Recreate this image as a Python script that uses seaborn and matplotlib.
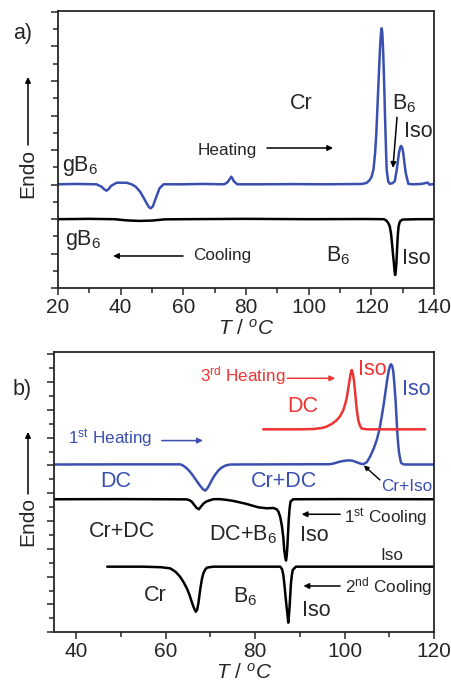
import matplotlib
matplotlib.use("Agg")
import matplotlib.pyplot as plt
import numpy as np
import pandas as pd
import seaborn as sns
from matplotlib.ticker import MultipleLocator

# ---- panel a) : DSC traces (T in degC, signal in tick units) ----
a_heat_T = [20.0, 26.0, 32.3, 33.9, 34.8, 35.5, 36.2, 36.9, 38.7, 41.9, 43.5, 44.8, 46.2, 47.3, 48.3,
            49.0, 49.6, 50.3, 51.0, 51.7, 52.4, 53.7, 60.0, 66.0, 73.0, 74.0, 74.6, 75.3, 75.7, 76.1,
            77.2, 85.0, 95.0, 105.0, 112.0, 117.0, 118.5, 119.4, 120.1, 120.7, 121.2, 121.6, 122.0,
            122.4, 122.8, 123.1, 123.3, 123.5, 123.8, 124.1, 124.4, 124.7, 124.9, 125.4, 125.9, 126.7,
            127.5, 128.1, 128.8, 129.2, 129.5, 129.9, 130.2, 130.6, 131.0, 131.8, 133.0, 136.0, 138.0,
            138.5, 140.0]
a_heat_y = [6.02, 6.04, 6.02, 5.88, 5.72, 5.65, 5.75, 5.92, 6.11, 6.11, 6.02, 5.88, 5.59, 5.25, 4.92,
            4.70, 4.63, 4.75, 5.11, 5.45, 5.79, 6.02, 6.02, 6.04, 6.02, 6.12, 6.27, 6.46, 6.35, 6.20,
            6.02, 6.02, 6.03, 6.02, 6.03, 6.04, 6.10, 6.25, 6.46, 6.90, 7.82, 9.00, 10.71,
            12.40, 13.99, 14.80, 15.05, 14.80, 13.61, 11.80, 9.75, 7.90, 6.85, 6.17, 6.05, 6.08,
            6.20, 6.85, 7.82, 8.15, 8.24, 8.10, 7.82, 7.20, 6.66, 6.05, 6.02, 6.04, 6.12,
            6.00, 6.04]

a_cool_T = [20.0, 30.0, 38.0, 42.0, 46.0, 50.0, 54.0, 60.0, 80.0, 100.0, 118.0, 124.0, 124.8, 125.4,
            125.9, 126.3, 126.6, 126.9, 127.2, 127.4, 127.6, 127.8, 128.0, 128.15, 128.3, 128.5,
            128.7, 129.0, 129.3, 130.0, 135.0, 140.0]
a_cool_y = [4.00, 4.02, 4.00, 3.93, 3.90, 3.92, 3.99, 4.00, 4.02, 4.00, 4.01, 4.00, 3.92, 3.78,
            3.57, 3.15, 2.60, 2.00, 1.45, 1.00, 0.77, 1.00, 1.45, 2.00, 2.60, 3.20,
            3.57, 3.80, 3.90, 3.98, 4.00, 4.00]

# ---- panel b) ----
b_heat1_T = [35, 50, 63.2, 63.6, 64.3, 65.05, 65.8, 66.5, 67.1, 67.7, 68.3, 68.8, 69.3, 69.75, 70.4,
             71.0, 71.8, 72.5, 73.4, 74.4, 85, 96.7, 97.5, 99.0, 100.0, 101.1, 102.0, 102.7, 103.5,
             104.2, 105.0, 105.7, 106.5, 107.2, 107.8, 108.3, 108.8, 109.2, 109.6, 109.9, 110.2,
             110.4, 110.65, 110.9, 111.15, 111.4, 111.6, 111.8, 112.0, 112.2, 112.6, 113.0, 113.5, 120]
b_heat1_y = [12.07, 12.08, 12.08, 12.04, 11.90, 11.68, 11.40, 11.08, 10.80, 10.53, 10.30, 10.19, 10.35,
             10.60, 11.00, 11.32, 11.65, 11.85, 12.00, 12.07, 12.08, 12.09, 12.14, 12.28, 12.34, 12.37,
             12.32, 12.23, 12.14, 12.09, 12.25, 12.64, 13.20, 13.84, 14.60, 15.50, 16.50, 17.43, 18.30,
             18.87, 19.20, 19.28, 19.15, 18.75, 17.80, 16.71, 15.50, 14.32, 13.50, 12.88, 12.21, 12.10,
             12.07, 12.07]

b_heat3_T = [81.8, 90.0, 93.0, 95.0, 96.0, 97.2, 98.2, 99.0, 99.7, 100.2, 100.5, 100.8, 101.1, 101.35,
             101.6, 101.85, 102.1, 102.35, 102.6, 102.85, 103.1, 103.45, 103.8, 105.0, 118.0]
b_heat3_y = [14.60, 14.60, 14.62, 14.70, 14.80, 15.00, 15.25, 15.55, 15.97, 16.50, 16.90, 17.50, 18.10,
             18.60, 18.87, 18.60, 18.10, 17.30, 16.40, 15.70, 15.20, 14.85, 14.66, 14.60, 14.60]

b_cool1_T = [35, 50, 60, 64.7, 65.3, 65.8, 66.4, 66.9, 67.4, 68.0, 68.5, 69.15, 70.6, 72.0, 73.5, 75.1,
             76.5, 78.1, 79.5, 80.7, 82.6, 84.1, 84.8, 85.2, 85.6, 86.0, 86.3, 86.5, 86.7, 86.9, 87.05,
             87.2, 87.35, 87.5, 87.7, 87.9, 88.5, 100, 120]
b_cool1_y = [9.57, 9.58, 9.57, 9.56, 9.50, 9.40, 9.15, 8.95, 8.85, 9.09, 9.28, 9.42, 9.57, 9.58, 9.53,
             9.45, 9.35, 9.23, 9.10, 8.99, 8.92, 8.94, 8.85, 8.68, 8.30, 7.60, 6.80, 5.92, 5.45, 5.16,
             5.50, 6.16, 7.10, 8.08, 8.90, 9.40, 9.57, 9.58, 9.57]

b_cool2_T = [46.9, 55.0, 59.0, 61.0, 62.2, 63.2, 64.0, 64.7, 65.3, 65.8, 66.3, 66.7, 67.0, 67.3, 67.55,
             67.8, 68.1, 68.4, 68.8, 69.2, 70.6, 80.0, 85.6, 86.0, 86.3, 86.55, 86.8, 87.0, 87.2, 87.4,
             87.55, 87.7, 87.85, 88.0, 88.2, 88.4, 89.1, 120]
b_cool2_y = [4.72, 4.72, 4.68, 4.60, 4.35, 4.00, 3.60, 3.17, 2.70, 2.20, 1.75, 1.48, 1.60, 2.09, 2.70,
             3.28, 3.85, 4.24, 4.50, 4.65, 4.72, 4.72, 4.72, 4.55, 4.12, 3.40, 2.56, 1.90, 1.37, 0.69,
             1.20, 1.84, 2.70, 3.52, 4.10, 4.48, 4.72, 4.72]

BLUE = '#3a50b0'
RED = '#ee3333'
BLACK = '#000000'

sns.set_style('ticks')
plt.rcParams['font.family'] = ['Liberation Sans', 'DejaVu Sans']
plt.rcParams['mathtext.fontset'] = 'custom'
plt.rcParams['mathtext.rm'] = 'Liberation Sans'
plt.rcParams['mathtext.it'] = 'Liberation Sans:italic'
plt.rcParams['axes.linewidth'] = 1.2


def curves_df(parts):
    rows = []
    for name, xs, ys in parts:
        rows.extend([(name, x, y) for x, y in zip(xs, ys)])
    return pd.DataFrame(rows, columns=['curve', 'T', 'y'])


def style_axis(ax, xlim, ylim, xmajor, xminor):
    ax.set_xlim(*xlim)
    ax.set_ylim(*ylim)
    ax.xaxis.set_major_locator(MultipleLocator(xmajor))
    ax.xaxis.set_minor_locator(MultipleLocator(xminor))
    ax.yaxis.set_major_locator(MultipleLocator(2))
    ax.yaxis.set_minor_locator(MultipleLocator(1))
    ax.tick_params(axis='both', which='major', direction='out', length=5, width=1.1, labelsize=15, pad=2)
    ax.tick_params(axis='both', which='minor', direction='out', length=3.5, width=1.1)
    ax.tick_params(axis='y', which='both', labelleft=False)
    for s in ax.spines.values():
        s.set_visible(True)
        s.set_linewidth(1.3)
    ax.set_ylabel('')
    ax.set_xlabel(r'$\it{T}$ / $^{\it{o}}\it{C}$', fontsize=15, labelpad=1)


def arrow(ax, start, end, color, lw=1.2, ms=9, coords='data'):
    ax.annotate('', xy=end, xytext=start, xycoords=coords, textcoords=coords,
                arrowprops=dict(arrowstyle='-|>', color=color, lw=lw, mutation_scale=ms,
                                shrinkA=0, shrinkB=0))


fig = plt.figure(figsize=(4.52, 6.93), dpi=100)
W, H = 452, 693
ax_a = fig.add_axes([58 / W, 1 - 288.3 / H, (434 - 58) / W, (288.3 - 11) / H])
ax_b = fig.add_axes([54 / W, 1 - 632.3 / H, (434 - 54) / W, (632.3 - 352.3) / H])

# panel a
df_a = curves_df([('heat', a_heat_T, a_heat_y), ('cool', a_cool_T, a_cool_y)])
sns.lineplot(data=df_a, x='T', y='y', hue='curve', palette={'heat': BLUE, 'cool': BLACK},
             estimator=None, sort=False, linewidth=1.8, legend=False, ax=ax_a)
style_axis(ax_a, (20, 140), (0, 16.05), 20, 10)

big = 15.5
mid = 12.3
ax_a.text(97.7, 10.7, 'Cr', fontsize=big, ha='center', va='center')
ax_a.text(126.6, 10.7, r'B$_6$', fontsize=big, ha='left', va='center')
ax_a.text(130.4, 9.1, 'Iso', fontsize=big, ha='left', va='center')
arrow(ax_a, (128.2, 9.9), (126.9, 6.97), BLACK, lw=1.1, ms=8)
ax_a.text(64.7, 7.95, 'Heating', fontsize=mid, ha='left', va='center')
arrow(ax_a, (86.7, 8.12), (107.8, 8.12), BLACK, lw=1.1, ms=8)
ax_a.text(21.3, 7.05, r'gB$_6$', fontsize=big, ha='left', va='center')
ax_a.text(22.2, 2.8, r'gB$_6$', fontsize=big, ha='left', va='center')
arrow(ax_a, (59.9, 1.87), (37.6, 1.87), BLACK, lw=1.1, ms=8)
ax_a.text(63.1, 1.87, 'Cooling', fontsize=mid, ha='left', va='center')
ax_a.text(105.5, 1.87, r'B$_6$', fontsize=big, ha='left', va='center')
ax_a.text(129.8, 1.75, 'Iso', fontsize=big, ha='left', va='center')

# panel b
df_b = curves_df([('heat1', b_heat1_T, b_heat1_y), ('heat3', b_heat3_T, b_heat3_y),
                  ('cool1', b_cool1_T, b_cool1_y), ('cool2', b_cool2_T, b_cool2_y)])
sns.lineplot(data=df_b, x='T', y='y', hue='curve',
             palette={'heat1': BLUE, 'heat3': RED, 'cool1': BLACK, 'cool2': BLACK},
             estimator=None, sort=False, linewidth=1.8, legend=False, ax=ax_b)
style_axis(ax_b, (35, 120), (0, 20.14), 20, 10)

ax_b.text(67.7, 18.44, r'3$^{\rm rd}$ Heating', color=RED, fontsize=mid, ha='left', va='center')
arrow(ax_b, (87.2, 18.27), (97.9, 18.27), RED, lw=1.1, ms=8)
ax_b.text(102.9, 18.92, 'Iso', color=RED, fontsize=big, ha='left', va='center')
ax_b.text(112.8, 17.43, 'Iso', color=BLUE, fontsize=big, ha='left', va='center')
ax_b.text(87.1, 16.23, 'DC', color=RED, fontsize=big, ha='left', va='center')
ax_b.text(38.2, 13.95, r'1$^{\rm st}$ Heating', color=BLUE, fontsize=mid, ha='left', va='center')
arrow(ax_b, (59.1, 13.79), (68.3, 13.79), BLUE, lw=1.1, ms=8)
ax_b.text(45.3, 10.84, 'DC', color=BLUE, fontsize=big, ha='left', va='center')
ax_b.text(79.0, 10.84, 'Cr+DC', color=BLUE, fontsize=big, ha='left', va='center')
ax_b.text(108.1, 10.5, 'Cr+Iso', color=BLUE, fontsize=mid, ha='left', va='center')
arrow(ax_b, (107.9, 10.96), (104.3, 12.0), BLACK, lw=1.0, ms=7)
ax_b.text(99.9, 8.27, r'1$^{\rm st}$ Cooling', fontsize=mid, ha='left', va='center')
arrow(ax_b, (99.0, 8.49), (90.4, 8.49), BLACK, lw=1.1, ms=8)
ax_b.text(42.9, 7.24, 'Cr+DC', fontsize=big, ha='left', va='center')
ax_b.text(69.7, 7.0, r'DC+B$_6$', fontsize=big, ha='left', va='center')
ax_b.text(90.0, 6.93, 'Iso', fontsize=big, ha='left', va='center')
ax_b.text(108.1, 5.49, 'Iso', fontsize=mid, ha='left', va='center')
ax_b.text(100.1, 3.28, r'2$^{\rm nd}$ Cooling', fontsize=mid, ha='left', va='center')
arrow(ax_b, (99.0, 3.33), (90.8, 3.33), BLACK, lw=1.1, ms=8)
ax_b.text(55.0, 2.68, 'Cr', fontsize=big, ha='left', va='center')
ax_b.text(75.1, 2.56, r'B$_6$', fontsize=big, ha='left', va='center')
ax_b.text(90.4, 1.6, 'Iso', fontsize=big, ha='left', va='center')

# panel letters and Endo labels with arrows
fig.text(13 / W, 1 - 33 / H, 'a)', fontsize=big, ha='left', va='center')
fig.text(13 / W, 1 - 390 / H, 'b)', fontsize=big, ha='left', va='center')
for yc, y0, y1 in [(173, 145, 77), (521, 494, 432)]:
    fig.text(28 / W, 1 - yc / H, 'Endo', fontsize=15, rotation=90, ha='center', va='center')
    arrow(ax_a, (28 / W, 1 - y0 / H), (28 / W, 1 - y1 / H), BLACK, lw=1.1, ms=8,
          coords='figure fraction')

fig.savefig('out.png', dpi=100)
